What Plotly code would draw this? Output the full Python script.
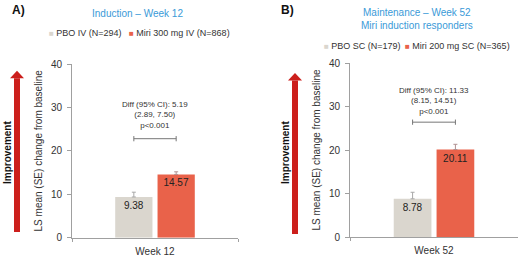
import plotly.graph_objects as go

# ---------------- data ----------------
panel_titles = ["Induction – Week 12", "Maintenance – Week 52<br>Miri induction responders"]
panel_letters = ["A)", "B)"]
categories = ["Week 12", "Week 52"]
pbo_names = ["PBO IV (N=294)", "PBO SC (N=179)"]
miri_names = ["Miri 300 mg IV (N=868)", "Miri 200 mg SC (N=365)"]
pbo_values = [9.38, 8.78]
pbo_se = [1.1, 1.5]
miri_values = [14.57, 20.11]
miri_se = [0.6, 1.2]
diff_labels = ["Diff (95% CI): 5.19<br>(2.89, 7.50)<br>p&lt;0.001",
               "Diff (95% CI): 11.33<br>(8.15, 14.51)<br>p&lt;0.001"]
diff_bracket_y = [22.8, 26.4]
diff_text_y = [28.2, 31.3]
y_ticks = [0, 10, 20, 30, 40]

# ---------------- style ----------------
W, H = 520, 256
FONT = "Liberation Sans, Arial, sans-serif"
PBO_COLOR = "#dad6ce"
MIRI_COLOR = "#e9624a"
ARROW_COLOR = "#cc1f1c"
TITLE_COLOR = "#3a9ad8"
TEXT_COLOR = "#333333"
AXIS_COLOR = "#a0a0a0"
BARGAP = 0.49


def px(x):
    return x / W


def py(y):
    return 1 - y / H


fig = go.Figure()

x_domains = [[72 / W, 238 / W], [350 / W, 518 / W]]
y_domains = [[18.3 / H, 192 / H], [19 / H, 193 / H]]

for i in range(2):
    xa = "x" if i == 0 else "x2"
    ya = "y" if i == 0 else "y2"
    fig.add_trace(go.Bar(
        x=[categories[i]], y=[pbo_values[i]], name=pbo_names[i],
        marker=dict(color=PBO_COLOR, line=dict(width=0)),
        error_y=dict(type="data", array=[pbo_se[i]], arrayminus=[0], symmetric=False,
                     color="#a8a8a8", thickness=1, width=2),
        texttemplate="%{y:.2f}", textposition="inside", insidetextanchor="end",
        textangle=0, textfont=dict(family=FONT, size=10, color="#222222"),
        xaxis=xa, yaxis=ya, showlegend=False, offsetgroup="pbo"))
    fig.add_trace(go.Bar(
        x=[categories[i]], y=[miri_values[i]], name=miri_names[i],
        marker=dict(color=MIRI_COLOR, line=dict(width=0)),
        error_y=dict(type="data", array=[miri_se[i]], arrayminus=[0], symmetric=False,
                     color="#b09090", thickness=1, width=2),
        texttemplate="%{y:.2f}", textposition="inside", insidetextanchor="end",
        textangle=0, textfont=dict(family=FONT, size=10, color="#222222"),
        xaxis=xa, yaxis=ya, showlegend=False, offsetgroup="miri"))

axis_common = dict(showgrid=False, zeroline=False, showline=True, linecolor=AXIS_COLOR,
                   linewidth=1, ticks="outside", tickcolor=AXIS_COLOR, automargin=False,
                   tickfont=dict(family=FONT, size=10, color=TEXT_COLOR))

ytitle = "LS mean (SE) change from baseline"
fig.update_layout(
    template="none",
    xaxis=dict(domain=x_domains[0], anchor="y", tickson="boundaries", ticklen=3,
               ticklabelstandoff=4, **axis_common),
    yaxis=dict(domain=y_domains[0], anchor="x", range=[0, 40], tickvals=y_ticks, ticklen=4,
               ticklabelstandoff=3,
               title=dict(text=ytitle, standoff=6, font=dict(family=FONT, size=10, color=TEXT_COLOR)),
               **axis_common),
    xaxis2=dict(domain=x_domains[1], anchor="y2", tickson="boundaries", ticklen=3,
                ticklabelstandoff=4, **axis_common),
    yaxis2=dict(domain=y_domains[1], anchor="x2", range=[0, 40], tickvals=y_ticks, ticklen=4,
                ticklabelstandoff=3,
                title=dict(text=ytitle, standoff=6, font=dict(family=FONT, size=10, color=TEXT_COLOR)),
                **axis_common),
    barmode="group", bargap=BARGAP, bargroupgap=0.12,
    width=W, height=H, margin=dict(l=0, r=0, t=0, b=0, pad=0), autosize=False,
    paper_bgcolor="white", plot_bgcolor="white",
    font=dict(family=FONT, color=TEXT_COLOR),
)

annotations = []
shapes = []

# layout positions for decorations (pixels)
title_pos = [(137, 13), (417, 19)]
letter_pos = [(18, 10), (287, 10)]
legend_pos = [[(47, 33), (127, 33)], [(322, 46), (403, 46)]]
improve_x = [7, 285]
arrow_x = [17, 295]
arrow_tip = [70.7, 73]
arrow_bottom = [232, 234]

half = (1 - BARGAP) / 4  # centre of each bar slot within the category

for i in range(2):
    xa = "x" if i == 0 else "x2"
    ya = "y" if i == 0 else "y2"
    annotations.append(dict(text=panel_titles[i], x=px(title_pos[i][0]), y=py(title_pos[i][1]),
                            xref="paper", yref="paper", showarrow=False, xanchor="center", yanchor="middle",
                            font=dict(family=FONT, size=10, color=TITLE_COLOR)))
    annotations.append(dict(text="<b>" + panel_letters[i] + "</b>", x=px(letter_pos[i][0]), y=py(letter_pos[i][1]),
                            xref="paper", yref="paper", showarrow=False, xanchor="center", yanchor="middle",
                            font=dict(family=FONT, size=12, color="#111111")))
    for (lx, ly), nm, col in zip(legend_pos[i], [pbo_names[i], miri_names[i]], [PBO_COLOR, MIRI_COLOR]):
        annotations.append(dict(text=f"<span style='color:{col};font-size:8px'>■</span> {nm}",
                                x=px(lx), y=py(ly), xref="paper", yref="paper", showarrow=False,
                                xanchor="left", yanchor="middle",
                                font=dict(family=FONT, size=9, color=TEXT_COLOR)))
    # diff annotation text
    annotations.append(dict(text=diff_labels[i], x=categories[i], y=diff_text_y[i], xref=xa, yref=ya,
                            showarrow=False, xanchor="center", yanchor="middle",
                            font=dict(family=FONT, size=8, color=TEXT_COLOR)))
    # improvement text
    annotations.append(dict(text="<b>Improvement</b>", x=px(improve_x[i]), y=py(153), xref="paper", yref="paper",
                            showarrow=False, textangle=-90, xanchor="center", yanchor="middle",
                            font=dict(family=FONT, size=10, color="#111111")))
    # diff bracket
    by = diff_bracket_y[i]
    shapes.append(dict(type="line", xref=xa, yref=ya, x0=-half, x1=half, y0=by, y1=by,
                       line=dict(color="#777777", width=1)))
    for xe in (-half, half):
        shapes.append(dict(type="line", xref=xa, yref=ya, x0=xe, x1=xe, y0=by - 0.6, y1=by + 0.6,
                           line=dict(color="#777777", width=1)))
    # improvement arrow
    ax = arrow_x[i]
    tip = arrow_tip[i]
    base = tip + 7.5
    shapes.append(dict(type="rect", xref="paper", yref="paper", x0=px(ax - 3), x1=px(ax + 3),
                       y0=py(arrow_bottom[i]), y1=py(base), fillcolor=ARROW_COLOR, line=dict(width=0)))
    path = (f"M {px(ax - 7)} {py(base)} L {px(ax + 7)} {py(base)} L {px(ax)} {py(tip)} Z")
    shapes.append(dict(type="path", xref="paper", yref="paper", path=path,
                       fillcolor=ARROW_COLOR, line=dict(width=0)))

fig.update_layout(annotations=annotations, shapes=shapes)

post = """
var gd = document.getElementById('{plot_id}');
gd.style.position = 'fixed'; gd.style.top = '0px'; gd.style.left = '0px';
document.body.style.margin = '0'; document.body.style.overflow = 'hidden';
document.documentElement.style.overflow = 'hidden';
"""
fig.write_html("out.html", config={"displayModeBar": False}, post_script=post)
